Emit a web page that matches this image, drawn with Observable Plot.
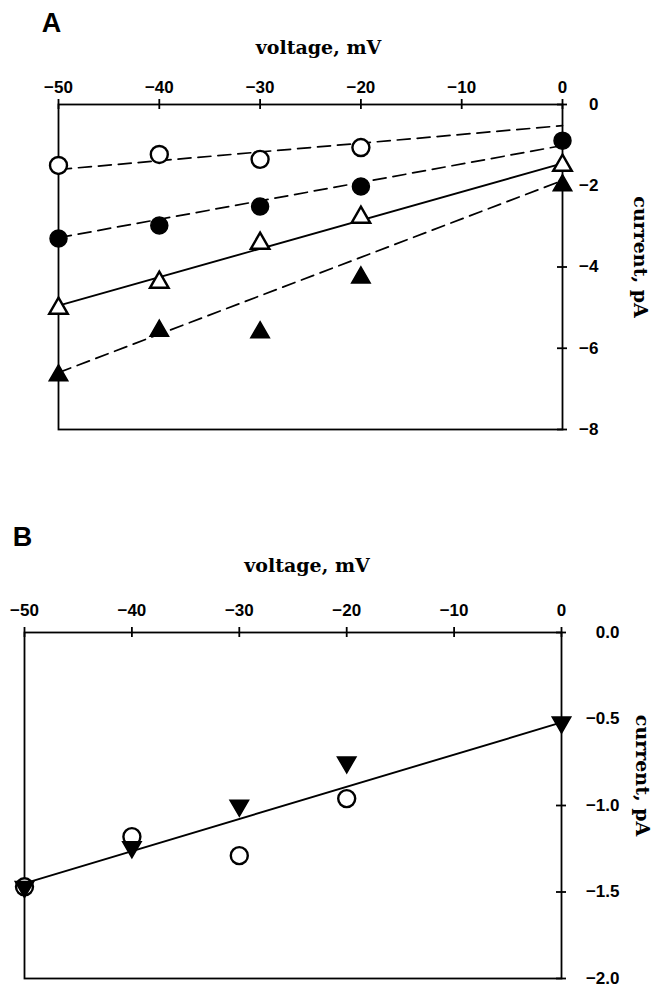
<!DOCTYPE html>
<html><head><meta charset="utf-8">
<script src="https://cdn.jsdelivr.net/npm/d3@7"></script>
<script src="https://cdn.jsdelivr.net/npm/@observablehq/plot@0.6"></script>
<style>
body{margin:0;background:#fff;}
#wrap{position:relative;width:653px;height:988px;background:#fff;}
#wrap svg{position:absolute;left:0;}
</style></head><body><div id="wrap"></div>
<script>
// ---- Panel A data (voltage mV, current pA) ----
const aVoltage = [-50, -40, -30, -20, 0];
const aOpenCircle = [-1.50, -1.23, -1.35, -1.06];          // at -50..-20
const aFilledCircle = [-3.30, -2.98, -2.51, -2.02, -0.89];
const aOpenTriangle = [-5.02, -4.38, -3.42, -2.78, -1.50];
const aFilledTriangle = [-6.67, -5.57, -5.61, -4.26, -1.99];
// fitted lines: value at -50 mV and at 0 mV
const fitVoltage = [-50, 0];
const aFitOpenCircle = [-1.60, -0.52];
const aFitFilledCircle = [-3.28, -1.01];
const aFitOpenTriangle = [-4.95, -1.45];
const aFitFilledTriangle = [-6.60, -1.87];
const aXTicks = [-50, -40, -30, -20, -10, 0];
const aYTicks = [0, -2, -4, -6, -8];

// ---- Panel B data ----
const bVoltage = [-50, -40, -30, -20, 0];
const bOpenCircle = [-1.47, -1.18, -1.29, -0.96];          // at -50..-20
const bFilledDownTriangle = [-1.47, -1.24, -1.00, -0.75, -0.52];
const bFit = [-1.45, -0.52];
const bXTicks = [-50, -40, -30, -20, -10, 0];
const bYTicks = [0, -0.5, -1.0, -1.5, -2.0];

const serif = "DejaVu Serif";
const sans = "Liberation Sans";
const pts = (xs, ys) => ys.map((v, i) => ({x: xs[i], y: v}));

function frameTicks(xTicks, yTicks, yTop, xRight) {
  return [
    Plot.frame({stroke: "black", strokeWidth: 1.8}),
    Plot.ruleX(xTicks, {x: d => d, y1: yTop, y2: yTop, insetTop: -5, insetBottom: -5, stroke: "black", strokeWidth: 1.8}),
    Plot.ruleY(yTicks, {y: d => d, x1: xRight, x2: xRight, insetLeft: -5, insetRight: -5, stroke: "black", strokeWidth: 1.8})
  ];
}

const circleR = 8.5, triR = 6.9;
const tickFont = 17, labelFont = 19;

const plotA = Plot.plot({
  width: 653, height: 470,
  marginTop: 104, marginLeft: 58, marginRight: 91, marginBottom: 41,
  x: {domain: [-50, 0]},
  y: {domain: [-8, 0]},
  style: {fontFamily: sans, fontWeight: "bold", fontSize: tickFont + "px", background: "white"},
  marks: [
    ...frameTicks(aXTicks, aYTicks, 0, 0),
    Plot.axisX({anchor: "top", ticks: aXTicks, tickSize: 0, tickPadding: 12, label: null, tickFormat: d3.format(".0f"), fontSize: tickFont, fontWeight: "bold"}),
    Plot.axisY({anchor: "right", ticks: aYTicks, tickSize: 0, tickPadding: 36, textAnchor: "end", label: null, tickFormat: d3.format(".0f"), fontSize: tickFont, fontWeight: "bold"}),
    Plot.line(pts(fitVoltage, aFitOpenCircle), {x: "x", y: "y", stroke: "black", strokeWidth: 1.7, strokeDasharray: "13,7"}),
    Plot.line(pts(fitVoltage, aFitFilledCircle), {x: "x", y: "y", stroke: "black", strokeWidth: 1.7, strokeDasharray: "13,7"}),
    Plot.line(pts(fitVoltage, aFitOpenTriangle), {x: "x", y: "y", stroke: "black", strokeWidth: 1.9}),
    Plot.line(pts(fitVoltage, aFitFilledTriangle), {x: "x", y: "y", stroke: "black", strokeWidth: 1.7, strokeDasharray: "13,7"}),
    Plot.dot(pts(aVoltage, aOpenCircle), {x: "x", y: "y", r: circleR, symbol: "circle", fill: "white", stroke: "black", strokeWidth: 2.4}),
    Plot.dot(pts(aVoltage, aFilledCircle), {x: "x", y: "y", r: circleR, symbol: "circle", fill: "black", stroke: "black"}),
    Plot.dot(pts(aVoltage, aOpenTriangle), {x: "x", y: "y", r: triR, symbol: "triangle", fill: "white", stroke: "black", strokeWidth: 2.4}),
    Plot.dot(pts(aVoltage, aFilledTriangle), {x: "x", y: "y", r: triR, symbol: "triangle", fill: "black", stroke: "black"}),
    Plot.text(["A"], {frameAnchor: "top-left", dx: -7, dy: -81, textAnchor: "middle", lineAnchor: "middle", fontSize: 27, fontFamily: sans, fontWeight: "bold"}),
    Plot.text(["voltage, mV"], {frameAnchor: "top", dx: 8, dy: -57, textAnchor: "middle", lineAnchor: "middle", fontSize: labelFont, fontFamily: serif, fontWeight: "bold"}),
    Plot.text(["current, pA"], {frameAnchor: "right", dx: 78, dy: -10, rotate: 90, textAnchor: "middle", lineAnchor: "middle", fontSize: labelFont, fontFamily: serif, fontWeight: "bold"})
  ]
});

const plotB = Plot.plot({
  width: 653, height: 518,
  marginTop: 162, marginLeft: 24, marginRight: 92, marginBottom: 10,
  x: {domain: [-50, 0]},
  y: {domain: [-2, 0]},
  style: {fontFamily: sans, fontWeight: "bold", fontSize: tickFont + "px", background: "white"},
  marks: [
    ...frameTicks(bXTicks, bYTicks, 0, 0),
    Plot.axisX({anchor: "top", ticks: bXTicks, tickSize: 0, tickPadding: 17, label: null, tickFormat: d3.format(".0f"), fontSize: tickFont, fontWeight: "bold"}),
    Plot.axisY({anchor: "right", ticks: bYTicks, tickSize: 0, tickPadding: 58, textAnchor: "end", label: null, tickFormat: d3.format(".1f"), fontSize: tickFont, fontWeight: "bold"}),
    Plot.line(pts(fitVoltage, bFit), {x: "x", y: "y", stroke: "black", strokeWidth: 1.9}),
    Plot.dot(pts(bVoltage, bOpenCircle), {x: "x", y: "y", r: circleR, symbol: "circle", fill: "white", stroke: "black", strokeWidth: 2.4}),
    Plot.dot(pts(bVoltage, bFilledDownTriangle), {x: "x", y: "y", r: triR, symbol: "triangle", rotate: 180, fill: "black", stroke: "black"}),
    Plot.text(["B"], {frameAnchor: "top-left", dx: -2, dy: -95, textAnchor: "middle", lineAnchor: "middle", fontSize: 27, fontFamily: sans, fontWeight: "bold"}),
    Plot.text(["voltage, mV"], {frameAnchor: "top", dx: 14, dy: -67, textAnchor: "middle", lineAnchor: "middle", fontSize: labelFont, fontFamily: serif, fontWeight: "bold"}),
    Plot.text(["current, pA"], {frameAnchor: "right", dx: 81, dy: -30, rotate: 90, textAnchor: "middle", lineAnchor: "middle", fontSize: labelFont, fontFamily: serif, fontWeight: "bold"})
  ]
});

const wrap = document.getElementById("wrap");
plotA.style.top = "0px";
plotB.style.top = "470px";
wrap.appendChild(plotA);
wrap.appendChild(plotB);
</script>
</body></html>
